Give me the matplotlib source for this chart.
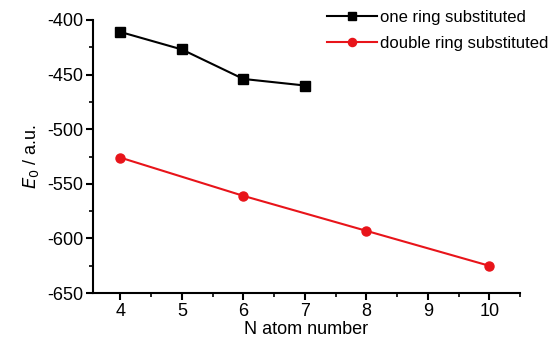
import matplotlib
matplotlib.use('Agg')
import matplotlib.pyplot as plt
from matplotlib.ticker import MultipleLocator

plt.rcParams['font.family'] = ['Liberation Sans', 'DejaVu Sans']
plt.rcParams['axes.unicode_minus'] = False

# one ring substituted
one_x = [4, 5, 6, 7]
one_y = [-411, -427, -454, -460]

# double ring substituted
dbl_x = [4, 6, 8, 10]
dbl_y = [-526, -561, -593, -625]

fig = plt.figure(figsize=(5.52, 3.44), dpi=100)
ax = fig.add_axes([0.168, 0.148, 0.774, 0.794])

ax.plot(one_x, one_y, color='black', marker='s', markersize=6.5, linewidth=1.5,
        label='one ring substituted')
ax.plot(dbl_x, dbl_y, color='#e8141a', marker='o', markersize=6.5, linewidth=1.5,
        label='double ring substituted')

ax.set_xlim(3.55, 10.5)
ax.set_ylim(-650, -400)
ax.xaxis.set_major_locator(MultipleLocator(1))
ax.xaxis.set_minor_locator(MultipleLocator(0.5))
ax.yaxis.set_major_locator(MultipleLocator(50))
ax.yaxis.set_minor_locator(MultipleLocator(25))

for s in ['top', 'right']:
    ax.spines[s].set_visible(False)
for s in ['left', 'bottom']:
    ax.spines[s].set_linewidth(1.5)

ax.tick_params(which='major', direction='out', length=5, width=1.5, labelsize=13, pad=2)
ax.tick_params(which='minor', direction='out', length=3, width=1.2)

ax.set_xlabel('N atom number', fontsize=13, labelpad=1)
ax.set_ylabel('$E_0$ / a.u.', fontsize=13, labelpad=4)

ax.legend(loc='upper right', frameon=False, fontsize=12, handlelength=3.0,
          handletextpad=0.2, labelspacing=0.65, borderaxespad=0, borderpad=0.2,
          markerscale=0.9, bbox_to_anchor=(1.0, 0.98), bbox_transform=fig.transFigure)

fig.savefig('out.png', dpi=100)
